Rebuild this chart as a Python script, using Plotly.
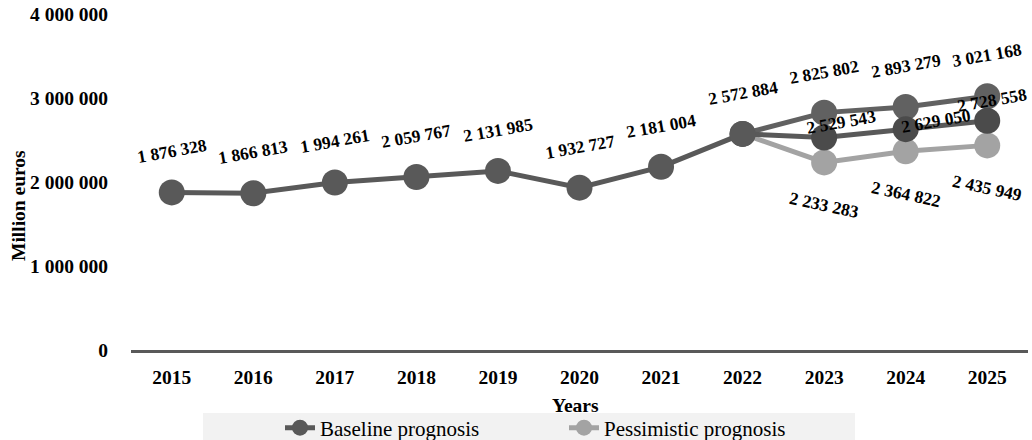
import plotly.graph_objects as go

# Values in million euros
years = ["2015", "2016", "2017", "2018", "2019", "2020", "2021", "2022", "2023", "2024", "2025"]
baseline = [1876328, 1866813, 1994261, 2059767, 2131985, 1932727, 2181004, 2572884,
            2529543, 2629050, 2728558]
forecast_years = ["2022", "2023", "2024", "2025"]
optimistic = [2572884, 2825802, 2893279, 3021168]
pessimistic = [2572884, 2233283, 2364822, 2435949]
y_ticks = [0, 1000000, 2000000, 3000000, 4000000]

SERIF = "Liberation Serif"
C_BASE = "#595959"
C_BASE_FC = "#4b4b4b"
C_OPT = "#616161"
C_PESS = "#a3a3a3"

def fmt(v):
    return f"{v:,}".replace(",", " ")

def cat(year):
    # annotation positions on a category axis use the category index
    return years.index(year)

fig = go.Figure()

fig.add_trace(go.Scatter(
    x=forecast_years, y=pessimistic, mode="lines+markers", name="Pessimistic prognosis",
    line=dict(color=C_PESS, width=5), marker=dict(size=26, color=C_PESS),
))
fig.add_trace(go.Scatter(
    x=forecast_years, y=optimistic, mode="lines+markers", name="Optimistic prognosis",
    line=dict(color=C_OPT, width=5), marker=dict(size=26, color=C_OPT), showlegend=False,
))
fig.add_trace(go.Scatter(
    x=years, y=baseline, mode="lines+markers", name="Baseline prognosis",
    line=dict(color=C_BASE, width=5),
    marker=dict(size=26, color=[C_BASE] * 8 + [C_BASE_FC] * 3),
))

# data labels
label_font = dict(family=SERIF, size=17.5, color="black", weight="bold")
annotations = []
hist_n = 8
for i in range(hist_n):
    annotations.append(dict(x=cat(years[i]), y=baseline[i], text=fmt(baseline[i]),
                            yshift=41, textangle=-10))
base_shift = [(17, 16), (30, 8), (5, 21)]
for k, i in enumerate(range(hist_n, len(years))):
    dx, dy = base_shift[k]
    annotations.append(dict(x=cat(years[i]), y=baseline[i], text=fmt(baseline[i]),
                            xshift=dx, yshift=dy, textangle=-10))
for i in range(1, len(forecast_years)):
    annotations.append(dict(x=cat(forecast_years[i]), y=optimistic[i], text=fmt(optimistic[i]),
                            yshift=41, textangle=-10))
for i in range(1, len(forecast_years)):
    annotations.append(dict(x=cat(forecast_years[i]), y=pessimistic[i], text=fmt(pessimistic[i]),
                            yshift=-43, textangle=12))
for a in annotations:
    a.update(xref="x", yref="y", showarrow=False, xanchor="center", yanchor="middle",
             font=label_font)

L, R, T, B = 131, 4, 14, 90
W, H = 1032, 440
pw, ph = W - L - R, H - T - B

def px(x):
    return (x - L) / pw

def py(y):
    return (H - B - y) / ph

title_font = dict(family=SERIF, size=19.5, color="black", weight="bold")
annotations.append(dict(xref="paper", yref="paper", x=px(18), y=py(205), text="Million euros",
                        textangle=-90, showarrow=False, font=title_font,
                        xanchor="center", yanchor="middle"))
annotations.append(dict(xref="paper", yref="paper", x=px(575), y=py(405), text="Years",
                        showarrow=False, font=title_font, xanchor="center", yanchor="middle"))

fig.update_layout(
    width=W, height=H,
    margin=dict(l=L, r=R, t=T, b=B, autoexpand=False),
    paper_bgcolor="white", plot_bgcolor="white",
    separators=". ",
    annotations=annotations,
    shapes=[dict(type="rect", xref="paper", yref="paper", layer="below",
                 x0=px(203), x1=px(855), y0=py(441), y1=py(413),
                 fillcolor="#f2f2f2", line=dict(width=0))],
    legend=dict(orientation="h", x=px(280), y=py(428), xanchor="left", yanchor="middle",
                bgcolor="rgba(0,0,0,0)", traceorder="reversed",
                font=dict(family=SERIF, size=21, color="black"),
                entrywidth=239, itemclick=False),
    xaxis=dict(type="category", categoryorder="array", categoryarray=years,
               range=[-0.5, 10.5], showgrid=False, zeroline=False,
               showline=True, linecolor=C_BASE, linewidth=3,
               ticks="", ticklabelstandoff=8,
               tickfont=dict(family=SERIF, size=19.5, color="black", weight="bold")),
    yaxis=dict(range=[0, 4000000], tickvals=y_ticks, showgrid=False, zeroline=False,
               showline=False, ticks="", ticklabelstandoff=22,
               tickformat=",d",
               tickfont=dict(family=SERIF, size=19.5, color="black", weight="bold")),
)

fig.write_html("out.html")
